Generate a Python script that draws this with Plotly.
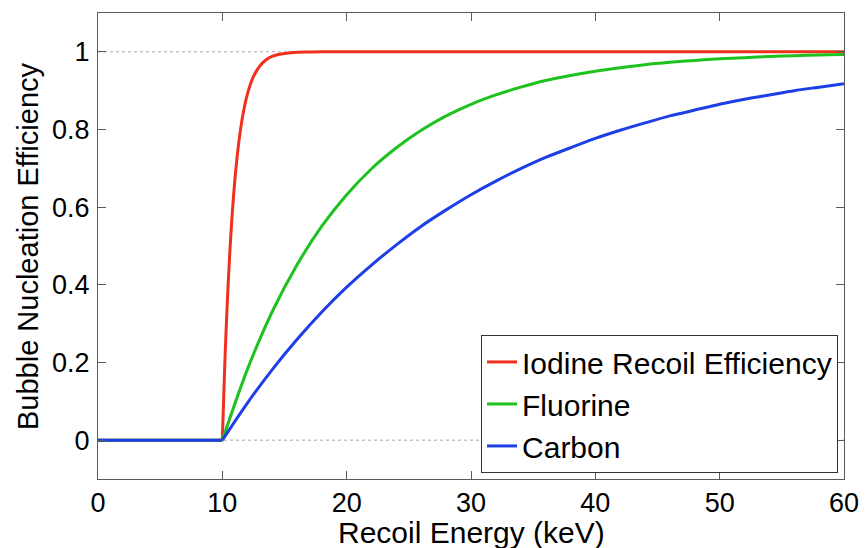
import plotly.graph_objects as go

# Recoil energy (keV) sample points and efficiencies
flat_energy = [0, 10]
flat_eff = [0, 0]

energy_iodine = [10, 10.2, 10.4, 10.6, 10.8, 11.0, 11.25, 11.5, 11.75, 12.0, 12.25,
                 12.5, 12.75, 13.0, 13.5, 14.0, 14.5, 15.0, 16.0, 17.0, 18.0, 60]
eff_iodine = [0, 0.198, 0.356, 0.483, 0.585, 0.667, 0.747, 0.808, 0.854, 0.889, 0.916,
              0.936, 0.951, 0.963, 0.979, 0.988, 0.993, 0.996, 0.999, 0.9995, 1.0, 1.0]

energy_fc = [10, 12, 14, 16, 18, 20, 22, 24, 26, 28, 30, 32, 34, 36, 38, 40,
             42, 44, 46, 48, 50, 52, 54, 56, 58, 60]
eff_fluorine = [0, 0.181, 0.330, 0.451, 0.551, 0.632, 0.699, 0.753, 0.798, 0.835,
                0.865, 0.889, 0.909, 0.926, 0.939, 0.950, 0.959, 0.967, 0.973,
                0.978, 0.982, 0.985, 0.988, 0.990, 0.992, 0.993]
eff_carbon = [0, 0.095, 0.181, 0.259, 0.330, 0.394, 0.451, 0.503, 0.551, 0.593,
              0.632, 0.667, 0.699, 0.728, 0.753, 0.777, 0.798, 0.817, 0.835,
              0.850, 0.865, 0.878, 0.889, 0.900, 0.909, 0.918]

ref_levels = [0, 1]
x_range = [0, 60]
y_range = [-0.1, 1.1]
x_ticks = [0, 10, 20, 30, 40, 50, 60]
y_ticks = [0, 0.2, 0.4, 0.6, 0.8, 1]
y_ticklabels = ["0", "0.2", "0.4", "0.6", "0.8", "1"]
x_title = "Recoil Energy (keV)"
y_title = "Bubble Nucleation Efficiency"

FONT = "Liberation Sans, Arial, Helvetica, sans-serif"

series = [
    ("Iodine Recoil Efficiency", "#f0301c", energy_iodine, eff_iodine),
    ("Fluorine", "#1ec21e", energy_fc, eff_fluorine),
    ("Carbon", "#1e3ee6", energy_fc, eff_carbon),
]

fig = go.Figure()

for lvl in ref_levels:
    fig.add_trace(go.Scatter(x=x_range, y=[lvl, lvl], mode="lines",
                             line=dict(color="#a8a8a8", width=1, dash="dot"),
                             showlegend=False, hoverinfo="skip"))

for name, color, xs, ys in series:
    fig.add_trace(go.Scatter(x=xs, y=ys, mode="lines", name=name, legendgroup=name,
                             line=dict(color=color, width=3, shape="spline",
                                       smoothing=0.8)))
# flat part below threshold (blue drawn on top, as in the original)
for name, color, xs, ys in series:
    fig.add_trace(go.Scatter(x=flat_energy, y=flat_eff, mode="lines", legendgroup=name,
                             showlegend=False, line=dict(color=color, width=3)))

axis_common = dict(showline=True, linecolor="#5a5a5a", linewidth=1, mirror="ticks",
                   ticks="inside", ticklen=8, tickcolor="#5a5a5a", tickwidth=1,
                   showgrid=False, zeroline=False, automargin=False,
                   tickfont=dict(family=FONT, size=27, color="black"))

fig.update_xaxes(range=x_range, tickvals=x_ticks, ticktext=[str(t) for t in x_ticks],
                 ticklabelstandoff=0, **axis_common)
fig.update_yaxes(range=y_range, tickvals=y_ticks, ticktext=y_ticklabels,
                 ticklabelstandoff=2, **axis_common)

fig.add_annotation(text=x_title, xref="paper", yref="paper", x=0.5, y=0,
                   xanchor="center", yanchor="middle", yshift=-53, showarrow=False,
                   font=dict(family=FONT, size=30, color="black"))
fig.add_annotation(text=y_title, xref="paper", yref="paper", x=0, y=0.5,
                   xanchor="center", yanchor="middle", xshift=-70, textangle=-90,
                   showarrow=False, font=dict(family=FONT, size=29, color="black"))

fig.update_layout(
    width=865, height=548,
    margin=dict(l=98, r=21, t=13, b=69),
    plot_bgcolor="white", paper_bgcolor="white",
    font=dict(family=FONT, color="black"),
    legend=dict(x=0.992, y=0.013, xanchor="right", yanchor="bottom",
                bgcolor="white", bordercolor="#333333", borderwidth=1,
                font=dict(family=FONT, size=30, color="black"),
                tracegroupgap=0, itemwidth=30),
)

fig.write_html("out.html")
